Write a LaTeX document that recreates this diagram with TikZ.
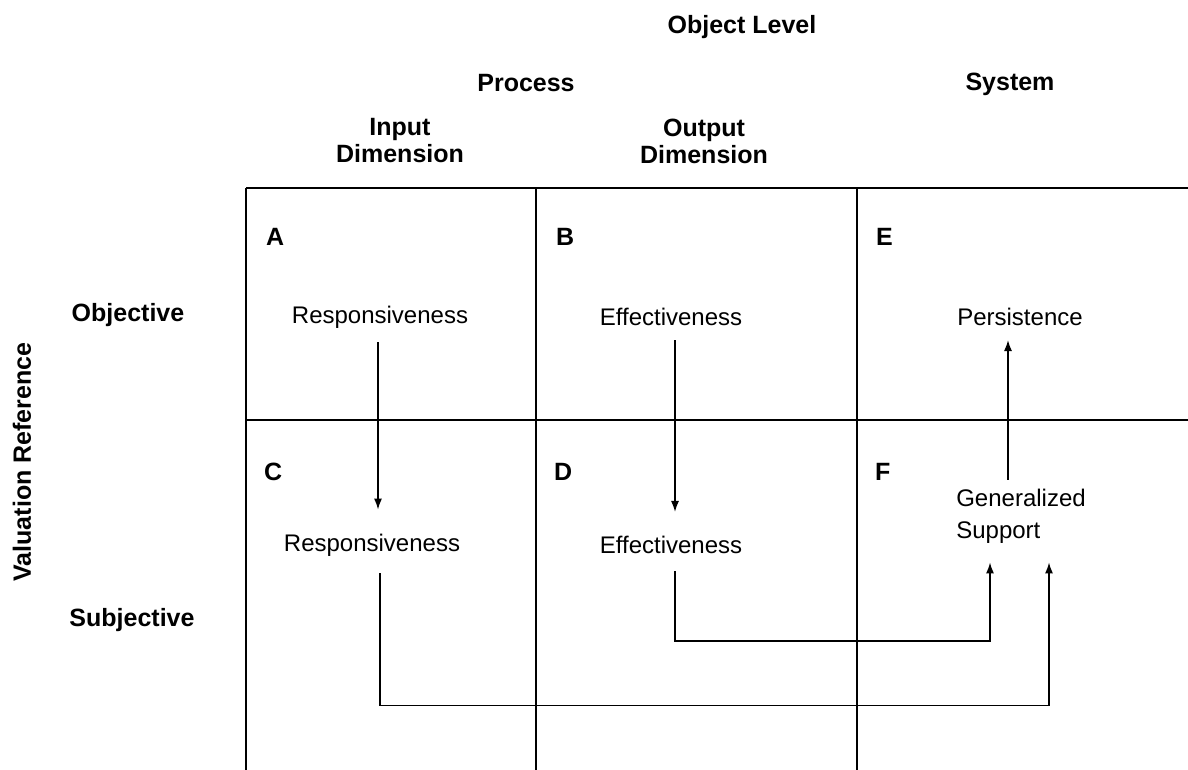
\documentclass[tikz,border=0pt]{standalone}
\usepackage{fontspec}
\setmainfont{Liberation Sans}
\usetikzlibrary{arrows.meta}
\begin{document}
\begin{tikzpicture}[x=1pt,y=-1pt,
    txt/.style={inner sep=0pt,font=\fontsize{24}{32}\selectfont},
    bld/.style={inner sep=0pt,font=\fontsize{25}{27}\selectfont\bfseries},
    grid/.style={line width=1.3pt},
    arr/.style={line width=1.5pt,-{Latex[length=11pt,width=8pt]}}]
      \useasboundingbox (0,0) rectangle (1188,770);
      \draw[grid] (246,188) -- (1188,188);
      \draw[grid] (246,420) -- (1188,420);
      \draw[grid] (246,188) -- (246,770);
      \draw[grid] (536,188) -- (536,770);
      \draw[grid] (857,188) -- (857,770);
      \node[bld] (objlevel) at (742,27) {Object Level};
      \node[bld] (process) at (526,83) {Process};
      \node[bld] (system) at (1010,84) {System};
      \node[bld,align=center] (inputdim) at (400,141) {Input\\Dimension};
      \node[bld,align=center] (outputdim) at (704,141) {Output\\Dimension};
      \node[bld] (objective) at (128,315) {Objective};
      \node[bld] (subjective) at (132,620) {Subjective};
      \node[bld,rotate=90] (valref) at (22,462) {Valuation Reference};
      \node[bld,anchor=west] (cellA) at (266,237) {A};
      \node[bld,anchor=west] (cellB) at (556,237) {B};
      \node[bld,anchor=west] (cellE) at (876,237) {E};
      \node[bld,anchor=west] (cellC) at (264,472) {C};
      \node[bld,anchor=west] (cellD) at (554,472) {D};
      \node[bld,anchor=west] (cellF) at (875,472) {F};
      \node[txt] (respA) at (380,317) {Responsiveness};
      \node[txt] (effB) at (671,317) {Effectiveness};
      \node[txt] (persE) at (1020,317) {Persistence};
      \node[txt] (respC) at (372,545) {Responsiveness};
      \node[txt] (effD) at (671,545) {Effectiveness};
      \node[txt,align=left] (genF) at (1021,516) {Generalized\\Support};
      \draw[arr,shorten <=14pt,shorten >=24pt] ([xshift=-2pt]respA.south) -- ([xshift=-2pt]respA.south |- respC.north);
      \draw[arr,shorten <=14pt,shorten >=24pt] ([xshift=4pt]effB.south) -- ([xshift=4pt]effB.south |- effD.north);
      \draw[arr,shorten <=9pt,shorten >=14pt] ([xshift=-12pt]persE.south |- genF.north) -- ([xshift=-12pt]persE.south);
      \draw[arr] ([xshift=4pt,yshift=-17pt]effD.south) -- ++(0,70) -| ([xshift=-31pt,yshift=-19pt]genF.south);
      \draw[arr] ([xshift=8pt,yshift=-17pt]respC.south) -- ++(0,132) -| ([xshift=28pt,yshift=-19pt]genF.south);
\end{tikzpicture}
\end{document}
